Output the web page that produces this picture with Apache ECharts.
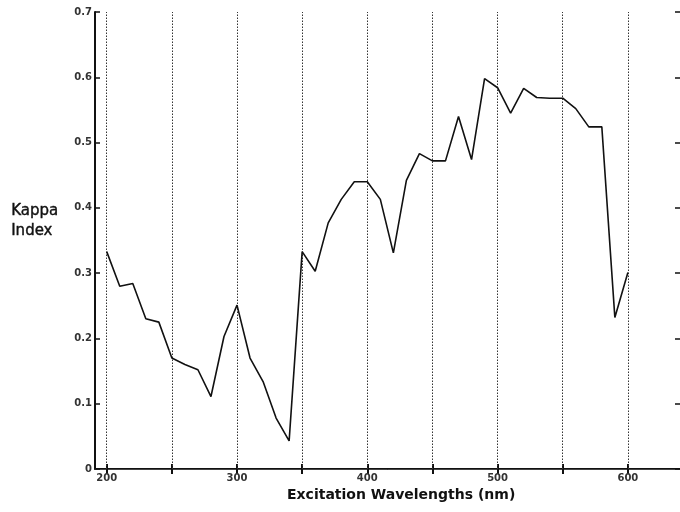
<!DOCTYPE html>
<html>
<head>
<meta charset="utf-8">
<script src="https://cdn.jsdelivr.net/npm/echarts@6/dist/echarts.min.js"></script>
<style>html,body{margin:0;padding:0;background:#fff}#c{width:680px;height:512px}</style>
</head>
<body>
<div id="c"></div>
<script>
var wavelengths = [200,210,220,230,240,250,260,270,280,290,300,310,320,330,340,350,360,370,380,390,400,410,420,430,440,450,460,470,480,490,500,510,520,530,540,550,560,570,580,590,600];
var kappa = [0.333,0.280,0.284,0.230,0.225,0.170,0.160,0.152,0.111,0.203,0.251,0.170,0.134,0.078,0.043,0.333,0.303,0.377,0.413,0.440,0.440,0.413,0.331,0.442,0.483,0.472,0.472,0.540,0.474,0.598,0.584,0.545,0.583,0.569,0.568,0.568,0.552,0.524,0.524,0.232,0.301];
var xTickValues = [200,250,300,350,400,450,500,550,600];
var xLabelValues = [200,300,400,500,600];
var gridLineValues = [200,250,300,350,400,450,500,550,600];
var xTitle = 'Excitation Wavelengths (nm)';
var yTitle = 'Kappa\nIndex';

var chart = echarts.init(document.getElementById('c'), null, {renderer:'canvas'});
var font = 'DejaVu Sans';
chart.setOption({
  animation: false,
  backgroundColor: '#fff',
  grid: {left: 95, top: 12, bottom: 43, right: -1, containLabel: false},
  xAxis: [{
    type: 'value', min: 191, max: 640, position: 'bottom',
    axisLine: {show: true, lineStyle: {color: '#111', width: 2}},
    axisTick: {show: true, inside: true, length: 5, customValues: xTickValues, lineStyle: {color: '#111', width: 2}},
    axisLabel: {show: true, customValues: xLabelValues, margin: 4, fontFamily: font, fontSize: 10, fontWeight: 'bold', color: '#333'},
    splitLine: {show: false}
  }, {
    type: 'value', min: 191, max: 640, position: 'top',
    axisLine: {show: true, lineStyle: {color: '#444', width: 1}},
    axisTick: {show: true, inside: true, length: 5, customValues: xTickValues, lineStyle: {color: '#111', width: 2}},
    axisLabel: {show: false},
    splitLine: {show: false}
  }],
  yAxis: [{
    type: 'value', min: 0, max: 0.7, interval: 0.1, position: 'left',
    axisLine: {show: true, lineStyle: {color: '#111', width: 2}},
    axisTick: {show: true, inside: true, length: 5, lineStyle: {color: '#111', width: 1.5}},
    axisLabel: {margin: 3, fontFamily: font, fontSize: 10, fontWeight: 'bold', color: '#333',
      formatter: function(v){ return v === 0 ? '0' : v.toFixed(1); }},
    splitLine: {show: false}
  }, {
    type: 'value', min: 0, max: 0.7, interval: 0.1, position: 'right',
    axisLine: {show: false},
    axisTick: {show: true, inside: true, length: 5, lineStyle: {color: '#111', width: 1.5}},
    axisLabel: {show: false},
    splitLine: {show: false}
  }],
  series: [{
    type: 'line',
    data: wavelengths.map(function(w,i){ return [w, kappa[i]]; }),
    showSymbol: false, symbol: 'none',
    lineStyle: {color: '#111', width: 1.6},
    z: 5,
    markLine: {
      silent: true, symbol: 'none', label: {show: false},
      lineStyle: {type: [1.5, 1.5], color: '#333', width: 1},
      data: gridLineValues.map(function(v){ return {xAxis: v}; }),
      z: 1
    }
  }],
  graphic: [{
    type: 'text', left: 287, top: 488,
    style: {text: xTitle, fontFamily: font, fontSize: 14, fontWeight: 'bold', fill: '#111'}
  }, {
    type: 'text', left: 11, top: 201,
    style: {text: yTitle, fontFamily: font, fontSize: 15, lineHeight: 20, fill: '#111', stroke: '#111', lineWidth: 0.4}
  }]
});
</script>
</body>
</html>
